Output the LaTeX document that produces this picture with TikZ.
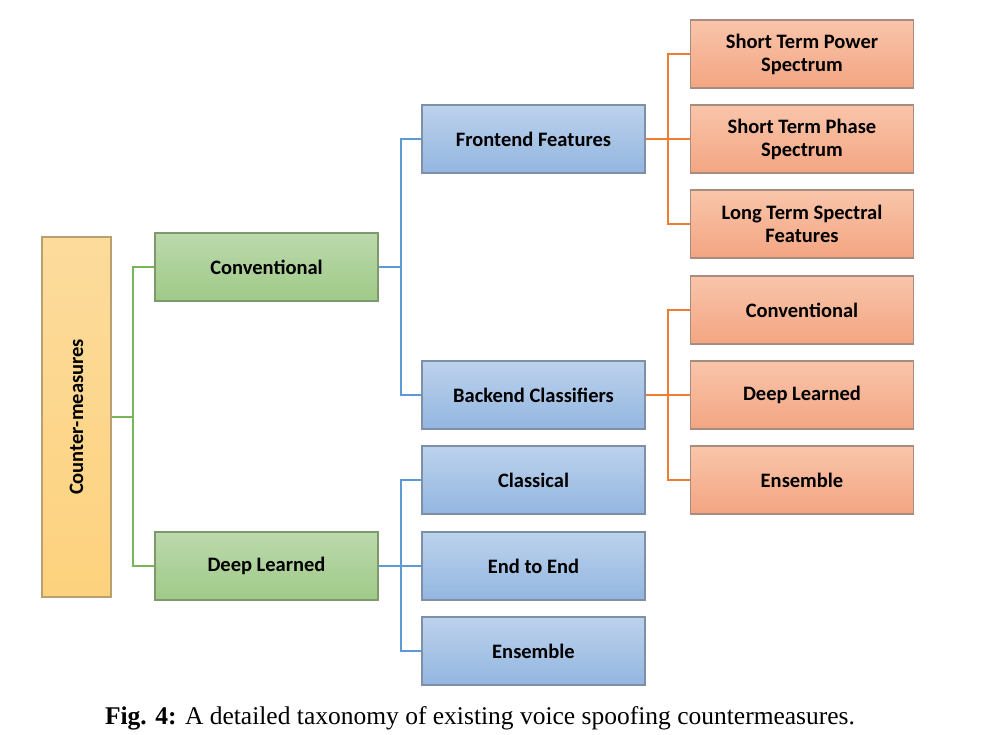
\documentclass[tikz,border=0pt]{standalone}
\usepackage{fontspec}
\setmainfont{Liberation Serif}
\newfontfamily\boxfont{Carlito}[BoldFont={* Bold}]
\definecolor{gtop}{HTML}{BCD9AC}
\definecolor{gbot}{HTML}{9FCA88}
\definecolor{gedge}{HTML}{7E9A6C}
\definecolor{btop}{HTML}{BCD2EC}
\definecolor{bbot}{HTML}{93B6E0}
\definecolor{bedge}{HTML}{7F8FA8}
\definecolor{otop}{HTML}{F9C5AA}
\definecolor{obot}{HTML}{F3A582}
\definecolor{oedge}{HTML}{A88C80}
\definecolor{ytop}{HTML}{FCDB9C}
\definecolor{ybot}{HTML}{FDD27E}
\definecolor{yedge}{HTML}{B8A070}
\definecolor{gline}{HTML}{78B458}
\definecolor{bline}{HTML}{5B9BD5}
\definecolor{oline}{HTML}{ED7D31}
\tikzset{
  base/.style={draw, line width=1.4pt, minimum width=223pt, minimum height=68pt,
    inner sep=0pt, align=center, font=\boxfont\bfseries\fontsize{20.5}{23}\selectfont},
  gbox/.style={base, draw=gedge, top color=gtop, bottom color=gbot},
  bbox/.style={base, draw=bedge, top color=btop, bottom color=bbot},
  obox/.style={base, draw=oedge, top color=otop, bottom color=obot},
  gconn/.style={draw=gline, line width=1.4pt},
  bconn/.style={draw=bline, line width=1.4pt},
  oconn/.style={draw=oline, line width=1.4pt},
}
\begin{document}
\begin{tikzpicture}[x=1pt, y=-1pt]
\useasboundingbox (0,0) rectangle (990,735);
\fill[white] (0,0) rectangle (990,735);
% root
\node[base, draw=yedge, top color=ytop, bottom color=ybot, minimum width=69pt, minimum height=360pt] (root) at (76.5,417) {};
\node[rotate=90, font=\boxfont\bfseries\fontsize{20.5}{23}\selectfont] (rootlabel) at (root.center) {Counter-measures};
% level 1
\node[gbox] (conv) at (266.5,267) {Conventional};
\node[gbox] (deep) at (266.5,566) {Deep Learned};
% level 2
\node[bbox] (front) at (533.5,139) {Frontend Features};
\node[bbox] (back) at (533.5,395) {Backend Classifiers};
\node[bbox] (clas) at (533.5,480) {Classical};
\node[bbox] (e2e) at (533.5,566) {End to End};
\node[bbox] (ens) at (533.5,651) {Ensemble};
% level 3
\node[obox] (stp) at (802,54) {Short Term Power\\Spectrum};
\node[obox] (stph) at (802,139) {Short Term Phase\\Spectrum};
\node[obox] (lts) at (802,224) {Long Term Spectral\\Features};
\node[obox] (bconv) at (802,310) {Conventional};
\node[obox] (bdeep) at (802,395) {Deep Learned};
\node[obox] (bens) at (802,480) {Ensemble};
% connectors
\coordinate (t0) at (133,0);
\draw[gconn] (root.east) -- (root.east -| t0);
\draw[gconn] (conv.west) -| (t0 |- deep.west) -- (deep.west);
\coordinate (t1) at (401,0);
\draw[bconn] (conv.east) -- (conv.east -| t1);
\draw[bconn] (front.west) -| (t1 |- back.west) -- (back.west);
\draw[bconn] (deep.east) -- (e2e.west);
\draw[bconn] (clas.west) -| (t1 |- ens.west) -- (ens.west);
\coordinate (t2) at (668,0);
\draw[oconn] (front.east) -- (stph.west);
\draw[oconn] (stp.west) -| (t2 |- lts.west) -- (lts.west);
\draw[oconn, line width=2.2pt] (back.east) -- (back.east -| t2);
\draw[oconn] (back.east -| t2) -- (bdeep.west);
\draw[oconn] (bconv.west) -| (t2 |- bens.west) -- (bens.west);
% caption
\node[font=\fontsize{25.5}{28}\selectfont, anchor=base] (cap) at (480,724) {\textbf{Fig. 4:} A detailed taxonomy of existing voice spoofing countermeasures.};
\end{tikzpicture}
\end{document}
